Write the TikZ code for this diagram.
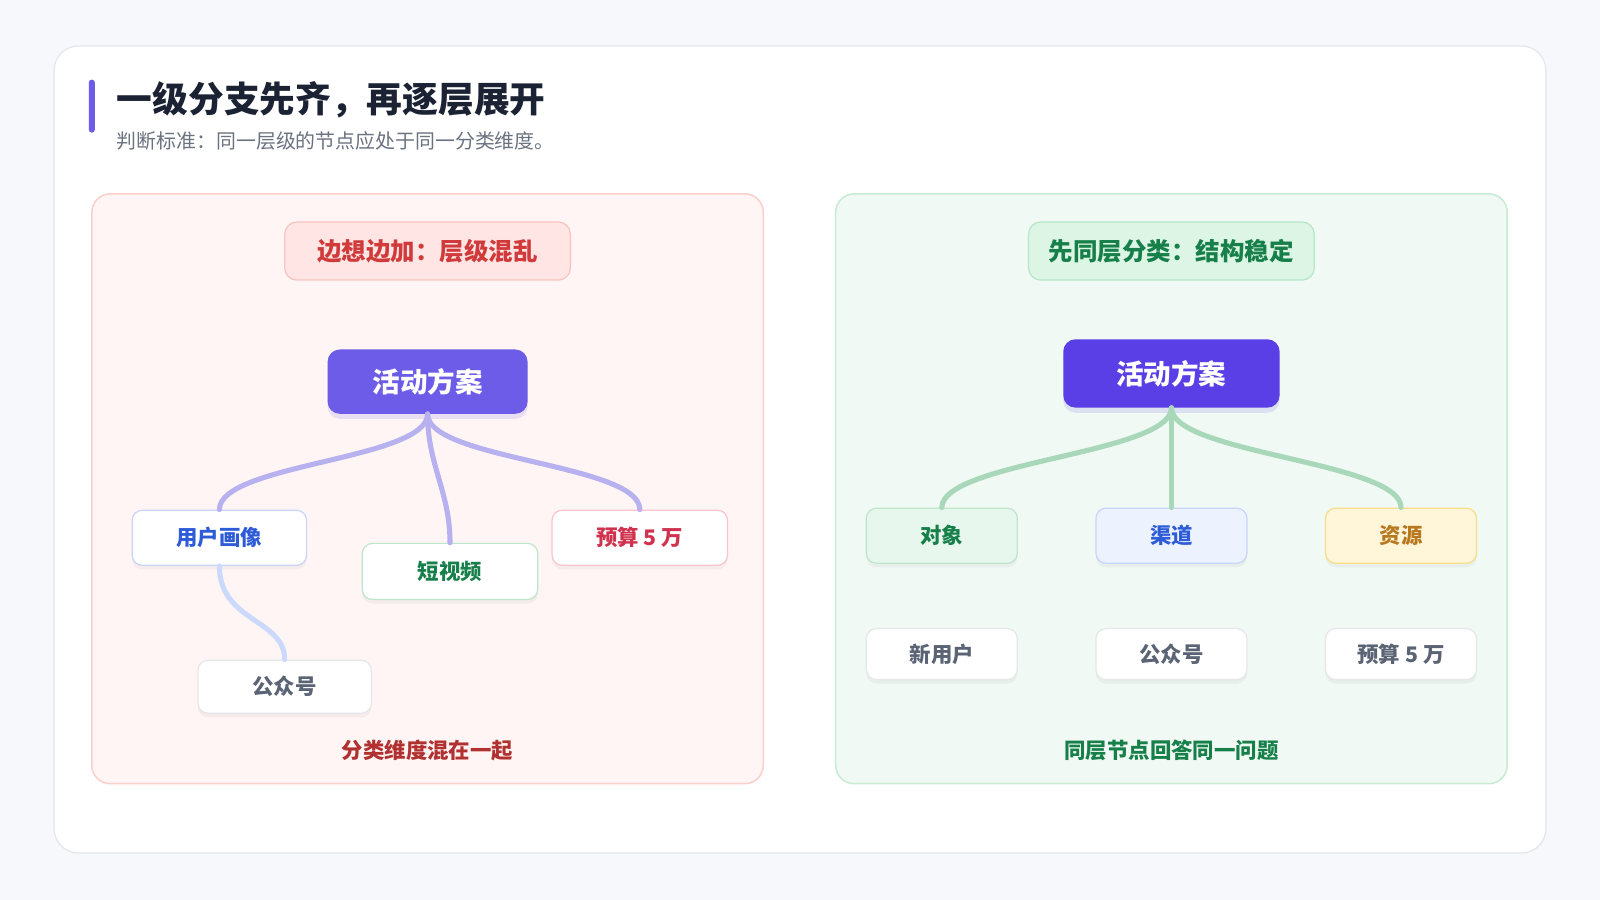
\documentclass[tikz,border=0pt]{standalone}
\usepackage{fontspec}
\setmainfont{Noto Sans CJK SC}
\usetikzlibrary{positioning}
\definecolor{bgc}{HTML}{F7F8FC}
\definecolor{cardline}{HTML}{E3E6EE}
\definecolor{accent}{HTML}{6C5CE7}
\definecolor{titlec}{HTML}{1A2233}
\definecolor{subc}{HTML}{6B7280}
\definecolor{lpanel}{HTML}{FFF5F4}
\definecolor{lpanelb}{HTML}{FBD0CC}
\definecolor{lhead}{HTML}{FFE6E4}
\definecolor{lheadb}{HTML}{F9C4C0}
\definecolor{redt}{HTML}{D03A3A}
\definecolor{rpanel}{HTML}{F0F9F3}
\definecolor{rpanelb}{HTML}{C8EBD3}
\definecolor{rhead}{HTML}{DDF5E5}
\definecolor{rheadb}{HTML}{B8E6C8}
\definecolor{greent}{HTML}{17804A}
\definecolor{rootl}{HTML}{6C5CE7}
\definecolor{rootr}{HTML}{5A3EE6}
\definecolor{bluet}{HTML}{2E5BD8}
\definecolor{blueb}{HTML}{C7D5FB}
\definecolor{greenb}{HTML}{BFE5CC}
\definecolor{pinkt}{HTML}{D0334F}
\definecolor{pinkb}{HTML}{F9C4CC}
\definecolor{grayb}{HTML}{E5E7EB}
\definecolor{grayt}{HTML}{5B6474}
\definecolor{purl}{HTML}{B7B1EF}
\definecolor{bluel}{HTML}{CBD9FC}
\definecolor{greenl}{HTML}{A8D8B9}
\definecolor{gfill}{HTML}{E8F7EE}
\definecolor{bfill}{HTML}{EDF2FF}
\definecolor{yfill}{HTML}{FFF6DA}
\definecolor{yb}{HTML}{F9DD8A}
\definecolor{yt}{HTML}{B7791F}
\tikzset{
 box/.style={draw, line width=1.2pt, rounded corners=10pt, inner sep=0pt, font=\bfseries\fontsize{21}{21}\selectfont,
   preaction={fill=black, opacity=0.04, transform canvas={yshift=-4pt}}},
 root/.style={rounded corners=12pt, inner sep=0pt, text=white, font=\bfseries\fontsize{27}{27}\selectfont,
   preaction={fill=accent, opacity=0.15, transform canvas={yshift=-5pt}}},
 head/.style={draw, line width=1.2pt, rounded corners=12pt, minimum width=280pt, minimum height=57pt, font=\bfseries\fontsize{24}{24}\selectfont},
 link/.style={line width=5pt, line cap=round},
}
\begin{document}
\begin{tikzpicture}[x=1pt,y=-1pt]
\useasboundingbox (0,0) rectangle (1568,882);
\fill[bgc] (0,0) rectangle (1568,882);
\draw[cardline, fill=white, line width=1.2pt, rounded corners=24pt] (53,45) rectangle (1515,836);
\fill[accent, rounded corners=3pt] (87,78) rectangle (93,130);
\node[anchor=west, text=titlec, font=\bfseries\fontsize{35}{35}\selectfont] (title) at (111,98) {一级分支先齐，再逐层展开};
\node[anchor=west, text=subc, font=\fontsize{19.5}{19.5}\selectfont] (sub) at (111,138) {判断标准：同一层级的节点应处于同一分类维度。};
% left panel
\draw[lpanelb, fill=lpanel, line width=1.5pt, rounded corners=18pt] (90,190) rectangle (748,768);
\node[head, draw=lheadb, fill=lhead, text=redt] (lh) at (419,246) {边想边加：层级混乱};
\node[root, fill=rootl, minimum width=196pt, minimum height=63pt] (lr) at (419,374) {活动方案};
\node[box, draw=blueb, fill=white, text=bluet, minimum width=171pt, minimum height=54pt] (a1) at (215,527) {用户画像};
\node[box, draw=greenb, fill=white, text=greent, minimum width=172pt, minimum height=55pt] (a2) at (441,560) {短视频};
\node[box, draw=pinkb, fill=white, text=pinkt, minimum width=172pt, minimum height=54pt] (a3) at (627,527) {预算 5 万};
\node[box, draw=grayb, fill=white, text=grayt, minimum width=170pt, minimum height=52pt] (a4) at (279,673) {公众号};
\draw[link, purl] (lr.south) .. controls +(0,45) and +(0,-45) .. (a1.north);
\draw[link, purl] (lr.south) .. controls +(0,50) and +(0,-50) .. (a2.north);
\draw[link, purl] (lr.south) .. controls +(0,45) and +(0,-45) .. (a3.north);
\draw[link, bluel] (a1.south) .. controls +(0,55) and +(0,-40) .. (a4.north);
\node[text=redt!85!black, font=\bfseries\fontsize{21}{21}\selectfont] (lc) at (419,735) {分类维度混在一起};
% right panel
\draw[rpanelb, fill=rpanel, line width=1.5pt, rounded corners=18pt] (819,190) rectangle (1477,768);
\node[head, draw=rheadb, fill=rhead, text=greent] (rh) at (1148,246) {先同层分类：结构稳定};
\node[root, fill=rootr, minimum width=212pt, minimum height=67pt] (rr) at (1148,366) {活动方案};
\node[box, draw=greenb, fill=gfill, text=greent, minimum width=148pt, minimum height=54pt] (b1) at (923,525) {对象};
\node[box, draw=blueb, fill=bfill, text=bluet, minimum width=148pt, minimum height=54pt] (b2) at (1148,525) {渠道};
\node[box, draw=yb, fill=yfill, text=yt, minimum width=148pt, minimum height=54pt] (b3) at (1373,525) {资源};
\node[box, draw=grayb, fill=white, text=grayt, minimum width=148pt, minimum height=50pt] (c1) at (923,641) {新用户};
\node[box, draw=grayb, fill=white, text=grayt, minimum width=148pt, minimum height=50pt] (c2) at (1148,641) {公众号};
\node[box, draw=grayb, fill=white, text=grayt, minimum width=148pt, minimum height=50pt] (c3) at (1373,641) {预算 5 万};
\draw[link, greenl] (rr.south) .. controls +(0,45) and +(0,-45) .. (b1.north);
\draw[link, greenl] (rr.south) -- (b2.north);
\draw[link, greenl] (rr.south) .. controls +(0,45) and +(0,-45) .. (b3.north);
\node[text=greent, font=\bfseries\fontsize{21}{21}\selectfont] (rc) at (1148,735) {同层节点回答同一问题};
\end{tikzpicture}
\end{document}
